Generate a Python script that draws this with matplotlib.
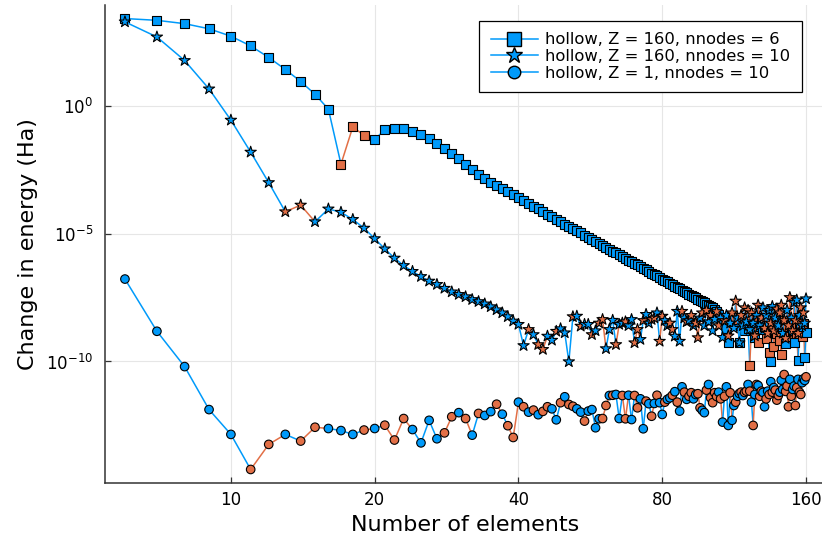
import numpy as np
import matplotlib
matplotlib.use("Agg")
import matplotlib.pyplot as plt
from matplotlib.collections import LineCollection
from matplotlib.lines import Line2D
from matplotlib.ticker import FixedLocator, FixedFormatter, LogFormatterMathtext, NullLocator

BLUE = "#009AFA"
ORANGE = "#E26F46"

# number of elements (x) shared by all three runs
n_elements = list(range(6, 161))

# log10 |change in energy| (Ha), N = 6..160
log_dE_z160_n6 = [
    3.40, 3.33, 3.20, 3.00, 2.71, 2.33, 1.88, 1.41, 0.94, 0.44,
    -0.14, -2.29, -0.83, -1.17, -1.33,
    -0.94, -0.89, -0.91, -1.00, -1.13, -1.30, -1.48, -1.69, -1.89, -2.08,
    -2.30, -2.50, -2.68, -2.86,
    -2.99, -3.12, -3.25, -3.37, -3.49, -3.60, -3.72, -3.83, -3.94, -4.04,
    -4.14, -4.25, -4.34, -4.44, -4.53, -4.63, -4.72, -4.81, -4.89, -4.98,
    -5.06, -5.15, -5.23, -5.31, -5.39, -5.46, -5.54, -5.61, -5.69, -5.76,
    -5.83, -5.90, -5.97, -6.04, -6.10, -6.17, -6.23, -6.30, -6.36, -6.42,
    -6.48, -6.55, -6.61, -6.66, -6.72, -6.78, -6.84, -6.89, -6.95, -7.00,
    -7.06, -7.11, -7.16, -7.22, -7.27, -7.32, -7.37, -7.42, -7.47, -7.52,
    -7.57, -7.62, -7.66, -7.71, -7.76, -7.80, -7.85,
    -7.90, -7.98, -8.05, -8.15, -8.30, -8.49, -8.30, -8.70, -9.26, -8.40,
    -8.20, -8.60, -8.55, -8.35, -9.27, -8.50, -8.30, -8.80, -8.45, -8.70,
    -10.14, -8.60, -8.35, -9.05, -8.50, -9.27, -8.62, -8.40, -8.75, -8.62,
    -9.10, -8.50, -9.66, -9.99, -8.60, -9.40, -8.40, -8.90, -8.55, -9.20,
    -9.73, -8.70, -8.45, -9.30, -8.60, -9.01, -8.50, -8.35, -8.80, -9.27,
    -8.55, -8.90, -9.96, -8.62, -8.75, -9.01, -8.50, -9.86, -8.88,
]
up_z160_n6 = [17, 18, 19, 108, 112, 115, 118, 120, 122, 124, 126, 127, 129,
              132, 134, 136, 137, 139, 141, 142, 144, 146, 147, 149, 152, 153,
              155, 157, 158]

log_dE_z160_n10 = [
    3.27, 2.68, 1.76, 0.65, -0.57, -1.82, -3.01, -4.15, -3.89, -4.54,
    -4.04, -4.17, -4.45, -4.79, -5.20, -5.60, -5.96, -6.25, -6.48, -6.68,
    -6.86, -6.99, -7.14, -7.28, -7.38, -7.47, -7.58, -7.66, -7.75, -7.86,
    -7.98, -8.10, -8.25, -8.42, -8.55, -9.38, -8.75, -8.95, -9.34, -9.53,
    -9.01, -9.17, -8.82, -8.72, -8.88, -10.01, -8.25, -8.23, -8.62, -8.55,
    -8.55, -8.95, -8.80, -8.50, -8.36, -9.50, -8.75, -8.39, -9.34, -8.55,
    -8.50, -8.45, -8.60, -8.36, -9.27, -8.75, -9.14, -8.40, -8.16, -8.50,
    -8.36, -8.30, -8.10, -9.21, -8.23, -8.40, -8.60, -8.50, -8.75, -9.01,
    -8.04, -9.21, -8.04, -8.30, -8.45, -8.40, -8.20, -8.60, -8.50, -9.07,
    -8.30, -8.10, -8.60, -8.00, -8.45, -8.20, -8.80, -8.35, -8.05, -8.60,
    -8.30, -9.06, -8.40, -8.20, -9.00, -8.50, -8.10, -8.70, -7.64, -8.30,
    -9.27, -8.20, -8.60, -7.90, -8.45, -8.00, -8.75, -8.10, -8.50, -9.00,
    -8.20, -7.80, -8.60, -8.30, -7.90, -8.70, -8.20, -8.90, -8.00, -8.50,
    -7.85, -8.80, -8.30, -7.95, -8.60, -8.10, -7.80, -8.90, -8.40, -9.10,
    -8.00, -8.60, -7.50, -8.30, -8.80, -7.70, -8.40, -7.60, -8.90, -8.20,
    -7.90, -8.60, -8.10, -8.50, -7.55,
]
up_z160_n10 = [13, 14, 42, 44, 45, 48, 52, 54, 57, 59, 60, 64, 67, 70, 71, 73,
               76, 77, 79, 80, 83, 84, 88, 90, 92, 94, 95, 97, 99, 101, 104,
               105, 108, 110, 112, 114, 117, 119, 121, 123, 125, 127, 129, 131,
               133, 135, 137, 139, 141, 142, 144, 145, 147, 148, 150, 152, 154,
               156, 158]

log_dE_z1_n10 = [
    -6.78, -8.82, -10.20, -11.88, -12.85, -14.22, -13.24, -12.85, -13.11, -12.57,
    -12.62, -12.70, -12.85, -12.68, -12.62, -12.49, -13.07, -12.23, -12.66, -13.18,
    -12.30, -13.02, -12.79, -12.16, -12.00, -12.23, -12.88, -12.03, -12.11, -11.96,
    -11.67, -12.06, -12.51, -12.97, -11.59, -11.77, -11.98, -11.90, -12.08, -11.95,
    -11.77, -11.85, -12.28, -11.61, -11.38, -11.68, -11.75, -11.85, -11.98, -12.33,
    -11.94, -11.88, -12.59, -12.24, -12.23, -11.72, -11.33, -11.32, -11.29, -12.23,
    -11.33, -12.24, -11.32, -12.27, -11.33, -11.81, -11.46, -12.63, -11.55, -11.65,
    -12.14, -11.64, -11.32, -11.61, -12.07, -11.59, -11.48, -11.42, -11.32, -11.18,
    -11.59, -11.94, -10.99, -11.20, -11.48, -11.36, -11.22, -11.46, -11.29, -11.26,
    -11.81, -11.91, -12.00, -11.12, -10.90, -11.42, -11.61, -11.22, -11.37, -11.20,
    -11.46, -12.37, -11.36, -10.99, -12.50, -11.22, -12.30, -11.72, -11.59, -11.36,
    -11.25, -11.20, -11.33, -11.21, -11.16, -10.90, -11.16, -11.59, -12.50, -11.29,
    -10.90, -10.94, -11.36, -11.16, -11.21, -11.77, -11.46, -11.16, -11.29, -10.79,
    -11.20, -11.02, -11.12, -11.51, -11.33, -11.20, -10.73, -11.09, -10.51, -11.17,
    -10.96, -11.77, -10.70, -11.36, -11.09, -10.96, -11.72, -11.02, -10.70, -11.20,
    -11.29, -10.83, -10.68, -10.74, -10.60,
]
up_z1_n10 = [11, 12, 14, 15, 19, 21, 22, 23, 28, 29, 31, 33, 36, 38, 39, 41, 43,
             45, 46, 49, 51, 52, 55, 60, 61, 63, 66, 67, 70, 71, 74, 76, 78, 81,
             84, 86, 89, 91, 92, 95, 96, 99, 101, 102, 103, 104, 106, 108, 111,
             114, 117, 119, 120, 122, 124, 126, 128, 129, 132, 134, 136, 138,
             139, 140, 144, 145, 146, 147, 149, 152, 153, 155, 156, 160]

labels = ["hollow, Z = 160, nnodes = 6",
          "hollow, Z = 160, nnodes = 10",
          "hollow, Z = 1, nnodes = 10"]


def draw_series(ax, logs, up, marker, size, z):
    x = np.array(n_elements, dtype=float)
    y = 10.0 ** np.array(logs)
    colors = [ORANGE if n in up else BLUE for n in n_elements]
    pts = np.column_stack([x, y])
    segs = np.stack([pts[:-1], pts[1:]], axis=1)
    # each segment takes the colour of the point it starts from
    ax.add_collection(LineCollection(segs, colors=colors[:-1], linewidths=1.1, zorder=z))
    ax.scatter(x, y, marker=marker, s=size, c=colors, edgecolors="black",
               linewidths=0.8, zorder=z + 0.5)


fig = plt.figure(figsize=(8.22, 5.40), dpi=100)
ax = fig.add_axes([104.5 / 822, 57 / 540, 722 / 822, 478 / 540])

draw_series(ax, log_dE_z160_n6, up_z160_n6, "s", 42, 2)
draw_series(ax, log_dE_z160_n10, up_z160_n10, "*", 72, 3)
draw_series(ax, log_dE_z1_n10, up_z1_n10, "o", 38, 4)

ax.set_xscale("log", base=2)
ax.set_yscale("log")
ax.set_xlim(5.437, 176.6)
ax.set_ylim(10 ** -14.749, 10 ** 3.929)

ax.xaxis.set_major_locator(FixedLocator([10, 20, 40, 80, 160]))
ax.xaxis.set_major_formatter(FixedFormatter(["10", "20", "40", "80", "160"]))
ax.xaxis.set_minor_locator(NullLocator())
ax.yaxis.set_major_locator(FixedLocator([1e-10, 1e-5, 1e0]))
ax.yaxis.set_major_formatter(LogFormatterMathtext())
ax.yaxis.set_minor_locator(NullLocator())

ax.grid(True, color="#e6e6e6", linewidth=0.8, zorder=0)
ax.set_axisbelow(True)
for side in ["top", "right"]:
    ax.spines[side].set_visible(False)
for side in ["left", "bottom"]:
    ax.spines[side].set_color("#333333")
    ax.spines[side].set_linewidth(1.1)
ax.tick_params(direction="in", length=4, width=0.9, labelsize=12, color="#333333")
ax.tick_params(axis="x", pad=6)
ax.tick_params(axis="y", pad=8)

ax.set_xlabel("Number of elements", fontsize=16)
ax.set_ylabel("Change in energy (Ha)", fontsize=16, labelpad=6)

handles = [
    Line2D([], [], color=BLUE, lw=1.1, marker="s", markersize=9.5,
           markerfacecolor=BLUE, markeredgecolor="black"),
    Line2D([], [], color=BLUE, lw=1.1, marker="*", markersize=12,
           markerfacecolor=BLUE, markeredgecolor="black"),
    Line2D([], [], color=BLUE, lw=1.1, marker="o", markersize=9,
           markerfacecolor=BLUE, markeredgecolor="black"),
]
leg = fig.legend(handles, labels, loc="upper right",
                 bbox_to_anchor=(802 / 822, 1 - 21 / 540), fontsize=11.8,
                 frameon=True, fancybox=False, framealpha=1, edgecolor="black",
                 handlelength=2.9, handletextpad=0.45, labelspacing=0.1,
                 borderpad=0.7, borderaxespad=0)
leg.get_frame().set_linewidth(0.9)

fig.savefig("out.png", dpi=100)
